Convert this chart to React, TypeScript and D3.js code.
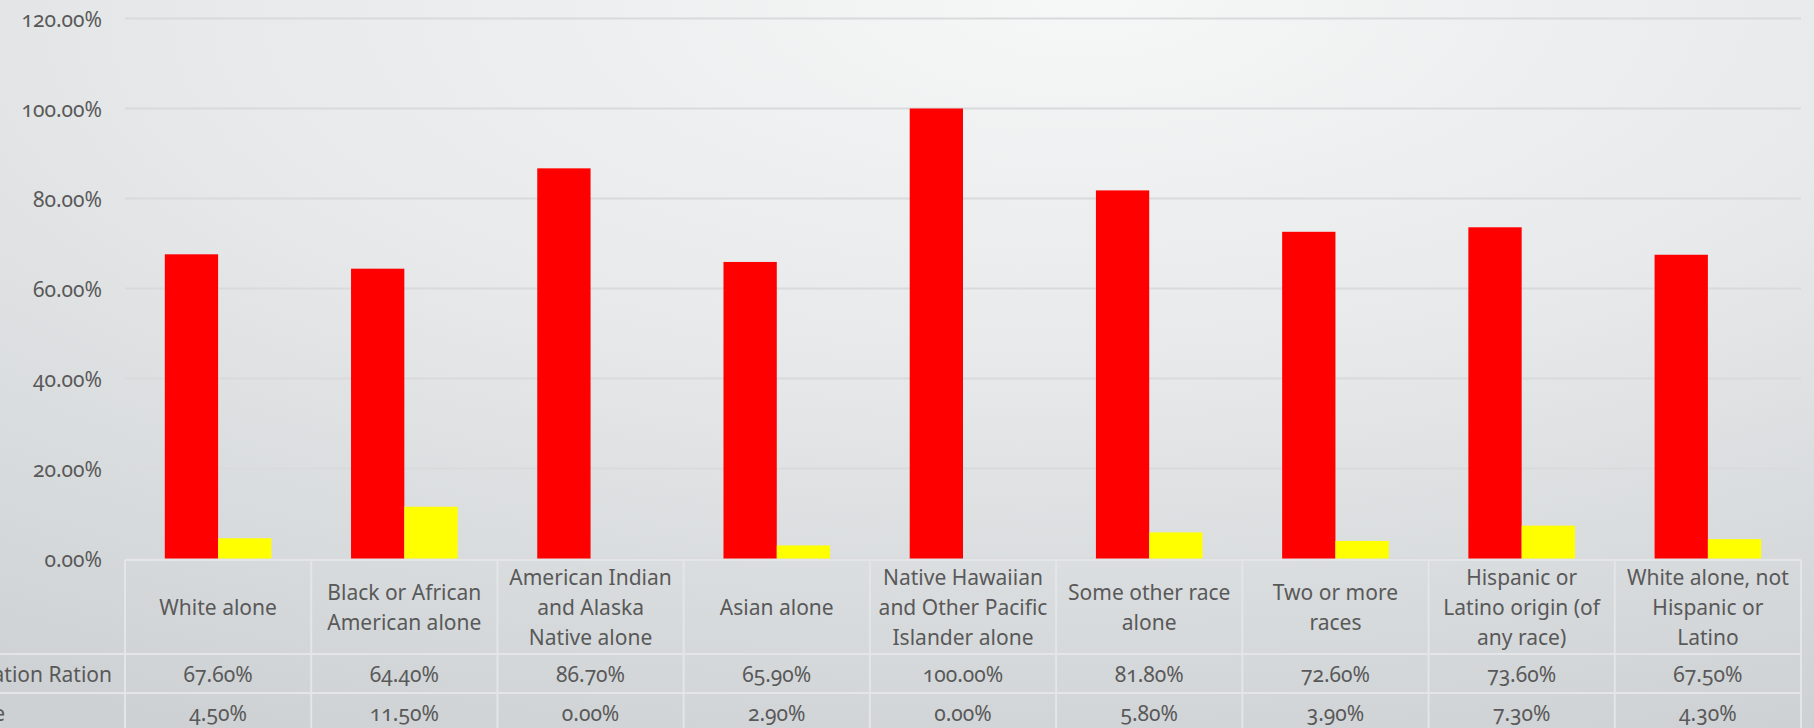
import React from "react";
import * as d3 from "d3";

const categories: string[][] = [
  ["White alone"],
  ["Black or African", "American alone"],
  ["American Indian", "and Alaska", "Native alone"],
  ["Asian alone"],
  ["Native Hawaiian", "and Other Pacific", "Islander alone"],
  ["Some other race", "alone"],
  ["Two or more", "races"],
  ["Hispanic or", "Latino origin (of", "any race)"],
  ["White alone, not", "Hispanic or", "Latino"],
];
const seriesNames = ["Employment Population Ration", "Unemployment Rate"];
const employment = [0.676, 0.644, 0.867, 0.659, 1.0, 0.818, 0.726, 0.736, 0.675];
const unemployment = [0.045, 0.115, 0.0, 0.029, 0.0, 0.058, 0.039, 0.073, 0.043];
const seriesColors = ["#ff0000", "#ffff00"];
const yTicks = [0, 0.2, 0.4, 0.6, 0.8, 1.0, 1.2];

const W = 1814;
const H = 728;
const FONT = "'Noto Sans', 'Open Sans', sans-serif";
const TEXT = "#595959";

export default function App() {
  const left = 125;
  const right = 1801;
  const top = 18.5;
  const bottom = 558.5;
  const tableTop = 560;
  const headerBottom = 654;
  const row1Bottom = 693;
  const row2Bottom = 732;

  const keys = categories.map((_, i) => String(i));
  const x0 = d3.scaleBand<string>().domain(keys).range([left, right]).paddingInner(0).paddingOuter(0);
  const x1 = d3
    .scaleBand<string>()
    .domain(seriesNames)
    .range([0, x0.bandwidth()])
    .paddingInner(0)
    .paddingOuter(0.747);
  const y = d3.scaleLinear().domain([0, 1.2]).range([bottom, top]);
  const fmt = d3.format(".2%");
  const seriesData = [employment, unemployment];
  const rowCenters = [(headerBottom + row1Bottom) / 2, (row1Bottom + row2Bottom) / 2];
  const rowLabelRight = [112, 5];
  const lineGap = 30;

  const textStyle: React.CSSProperties = {
    fontFamily: FONT,
    fontVariantNumeric: "oldstyle-nums",
  };

  return (
    <svg
      width={W}
      height={H}
      style={{ position: "absolute", left: 0, top: 0, display: "block" }}
    >
      <defs>
        <radialGradient id="bg" cx="0.55" cy="0.05" r="1.05" gradientUnits="objectBoundingBox" fx="0.6" fy="0.0">
          <stop offset="0" stopColor="#f6f7f7" />
          <stop offset="0.45" stopColor="#e7e9ea" />
          <stop offset="1" stopColor="#cdd1d3" />
        </radialGradient>
      </defs>
      <rect x={0} y={0} width={W} height={H} fill="url(#bg)" />

      {/* gridlines */}
      {yTicks.map((t) => (
        <line key={"g" + t} x1={left} x2={right} y1={y(t)} y2={y(t)} stroke="#d9dadb" strokeWidth={2} />
      ))}

      {/* y tick labels */}
      {yTicks.map((t) => (
        <text
          key={"t" + t}
          x={102}
          y={y(t)}
          textAnchor="end"
          dominantBaseline="central"
          fontSize={21}
          fill={TEXT}
          style={textStyle}
        >
          {fmt(t)}
        </text>
      ))}

      {/* bars */}
      {seriesData.map((vals, s) =>
        vals.map((v, i) => (
          <rect
            key={"b" + s + "-" + i}
            x={(x0(String(i)) as number) + (x1(seriesNames[s]) as number)}
            y={y(v)}
            width={x1.bandwidth()}
            height={bottom - y(v)}
            fill={seriesColors[s]}
          />
        ))
      )}

      {/* table grid */}
      <g stroke="#e3e5e6" strokeWidth={2} fill="none">
        <line x1={left} x2={right} y1={tableTop} y2={tableTop} />
        <line x1={0} x2={right} y1={headerBottom} y2={headerBottom} />
        <line x1={0} x2={right} y1={row1Bottom} y2={row1Bottom} />
        {keys.map((k) => (
          <line key={"v" + k} x1={x0(k) as number} x2={x0(k) as number} y1={tableTop} y2={H} />
        ))}
        <line x1={right} x2={right} y1={tableTop} y2={H} />
      </g>

      {/* category headers */}
      {categories.map((lines, i) => {
        const cx = (x0(String(i)) as number) + x0.bandwidth() / 2;
        const cy = (tableTop + headerBottom) / 2;
        const start = cy - ((lines.length - 1) * lineGap) / 2;
        return (
          <text
            key={"c" + i}
            textAnchor="middle"
            fontSize={21}
            fill={TEXT}
            style={textStyle}
          >
            {lines.map((ln, j) => (
              <tspan key={j} x={cx} y={start + j * lineGap} dominantBaseline="central">
                {ln}
              </tspan>
            ))}
          </text>
        );
      })}

      {/* row labels */}
      {seriesNames.map((n, s) => (
        <text
          key={"r" + s}
          x={rowLabelRight[s]}
          y={rowCenters[s]}
          textAnchor="end"
          dominantBaseline="central"
          fontSize={21}
          fill={TEXT}
          style={textStyle}
        >
          {n}
        </text>
      ))}

      {/* values */}
      {seriesData.map((vals, s) =>
        vals.map((v, i) => (
          <text
            key={"v" + s + "-" + i}
            x={(x0(String(i)) as number) + x0.bandwidth() / 2}
            y={rowCenters[s]}
            textAnchor="middle"
            dominantBaseline="central"
            fontSize={21}
            fill={TEXT}
            style={textStyle}
          >
            {fmt(v)}
          </text>
        ))
      )}
    </svg>
  );
}
